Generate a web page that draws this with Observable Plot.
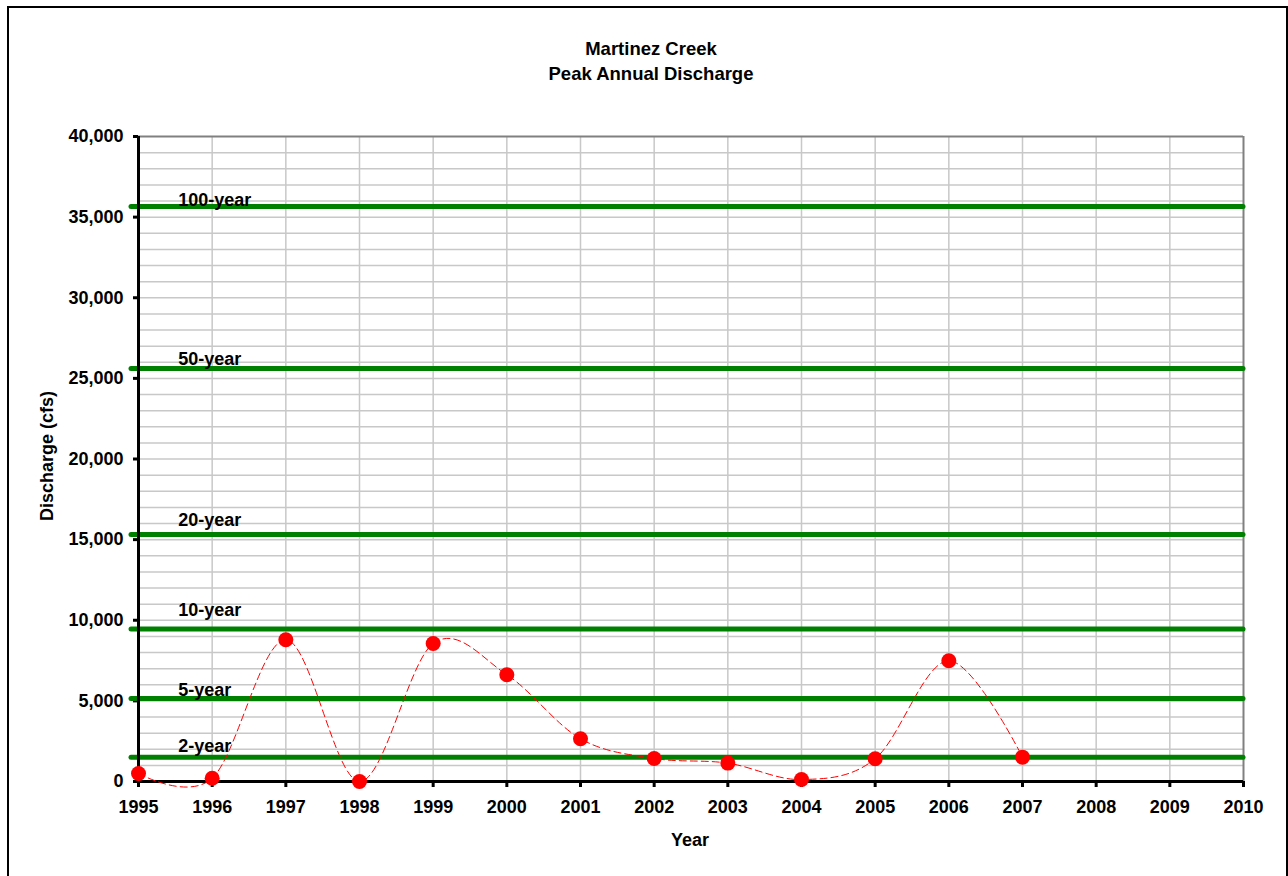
<!DOCTYPE html>
<html>
<head>
<meta charset="utf-8">
<script src="https://cdn.jsdelivr.net/npm/d3@7"></script>
<script src="https://cdn.jsdelivr.net/npm/@observablehq/plot@0.6"></script>
<style>
  html, body { margin: 0; padding: 0; background: #fff; }
  #wrap { position: relative; width: 1288px; height: 876px; overflow: hidden; font-family: "Liberation Sans", Arial, sans-serif; font-weight: bold; color: #000; }
  #frame { position: absolute; left: 7px; top: 6px; width: 1277px; height: 900px; border: 2px solid #000; box-sizing: content-box; }
  #title { position: absolute; left: 451px; width: 400px; top: 36px; text-align: center; font-size: 18.5px; line-height: 25px; }
  #ylab { position: absolute; left: 47px; top: 456px; font-size: 18px; white-space: nowrap; transform: translate(-50%, -50%) rotate(-90deg); }
  #xlab { position: absolute; left: 690px; top: 840px; font-size: 18px; white-space: nowrap; transform: translate(-50%, -50%); }
  #chart { position: absolute; left: 0; top: 0; }
  #chart svg g[aria-label^="x-axis"] line, #chart svg g[aria-label^="y-axis"] line,
  #chart svg g[aria-label="x-axis tick"] path, #chart svg g[aria-label="y-axis tick"] path { stroke-width: 3px; }
</style>
</head>
<body>
<div id="wrap">
  <div id="frame"></div>
  <div id="title">Martinez Creek<br>Peak Annual Discharge</div>
  <div id="chart"></div>
  <div id="ylab">Discharge (cfs)</div>
  <div id="xlab">Year</div>
</div>
<script>
// Observed peak annual discharge (cfs)
const years = [1995, 1996, 1997, 1998, 1999, 2000, 2001, 2002, 2003, 2004, 2005, 2006, 2007];
const discharge = [500, 200, 8790, 0, 8560, 6620, 2650, 1430, 1140, 120, 1410, 7490, 1510];

// Recurrence-interval flood discharges (cfs)
const floodNames = ["100-year", "50-year", "20-year", "10-year", "5-year", "2-year"];
const floodValues = [35660, 25610, 15320, 9450, 5150, 1510];
const floodLabelValues = [36030, 26170, 16220, 10600, 5640, 2200];
const floodLabelYear = 1995.54;

// Axis ticks
const yearTicks = [1995, 1996, 1997, 1998, 1999, 2000, 2001, 2002, 2003, 2004, 2005, 2006, 2007, 2008, 2009, 2010];
const yTicks = [0, 5000, 10000, 15000, 20000, 25000, 30000, 35000, 40000];
const yGrid = [1000, 2000, 3000, 4000, 5000, 6000, 7000, 8000, 9000, 10000, 11000, 12000, 13000, 14000, 15000, 16000, 17000, 18000, 19000, 20000, 21000, 22000, 23000, 24000, 25000, 26000, 27000, 28000, 29000, 30000, 31000, 32000, 33000, 34000, 35000, 36000, 37000, 38000, 39000];

const obs = years.map((y, i) => ({year: y, q: discharge[i]}));
const floods = floodNames.map((n, i) => ({name: n, q: floodValues[i], labelQ: floodLabelValues[i]}));
const commaFormat = d3.format(",");

const chart = Plot.plot({
  width: 1288,
  height: 876,
  marginLeft: 138,
  marginRight: 45,
  marginTop: 136,
  marginBottom: 95,
  style: {fontFamily: "'Liberation Sans', Arial, sans-serif", fontSize: "18px", fontWeight: "bold", color: "#000", background: "transparent"},
  x: {domain: [1995, 2010], ticks: yearTicks, tickFormat: d => String(d), tickSize: 6, tickPadding: 13, label: null},
  y: {domain: [0, 40000], ticks: yTicks, tickFormat: d => commaFormat(d), tickSize: 5, tickPadding: 10, label: null},
  marks: [
    Plot.ruleY(yGrid, {stroke: "#c8c8c8", strokeWidth: 1.5}),
    Plot.ruleX(yearTicks.slice(1, -1), {stroke: "#c8c8c8", strokeWidth: 1.5}),
    Plot.ruleY([40000], {stroke: "#808080", strokeWidth: 2}),
    Plot.ruleX([2010], {stroke: "#808080", strokeWidth: 2}),
    Plot.ruleY(floods, {y: "q", stroke: "#008000", strokeWidth: 5, insetLeft: -7, strokeLinecap: "round"}),
    Plot.text(floods, {x: () => floodLabelYear, y: "labelQ", text: "name", textAnchor: "start", fill: "#000", fontSize: 18, fontWeight: "bold"}),
    Plot.ruleX([1995], {stroke: "#000", strokeWidth: 3}),
    Plot.ruleY([0], {stroke: "#000", strokeWidth: 3}),
    Plot.line(obs, {x: "year", y: "q", curve: "cardinal", stroke: "#ff0000", strokeWidth: 1, strokeDasharray: "7,4"}),
    Plot.dot(obs, {x: "year", y: "q", r: 7.5, fill: "#ff0000", stroke: "none"})
  ]
});
document.getElementById("chart").appendChild(chart);
</script>
</body>
</html>
